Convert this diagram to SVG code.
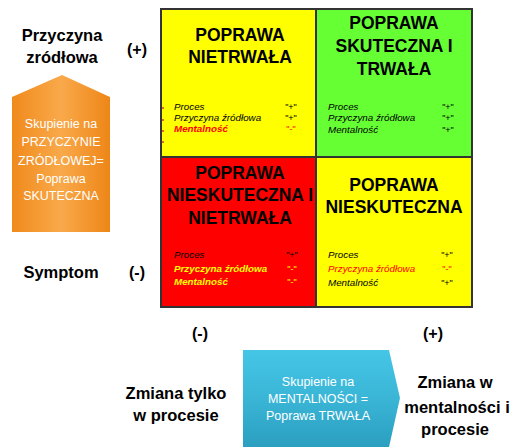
<svg xmlns="http://www.w3.org/2000/svg" width="512" height="448" viewBox="0 0 512 448">
<defs>
<linearGradient id="og" x1="0" y1="0" x2="1" y2="0">
<stop offset="0" stop-color="#f08a1c"/><stop offset="0.5" stop-color="#f9a94a"/><stop offset="1" stop-color="#ee8618"/>
</linearGradient>
<linearGradient id="bg" x1="0" y1="0" x2="0" y2="1">
<stop offset="0" stop-color="#45c6e6"/><stop offset="0.5" stop-color="#3ab5d6"/><stop offset="1" stop-color="#2b9fc0"/>
</linearGradient>
<style>
.t{font-family:"Liberation Sans",Arial,sans-serif;font-weight:bold;font-size:17.5px;fill:#000;text-anchor:middle}
.l{font-family:"Liberation Sans",Arial,sans-serif;font-weight:bold;font-size:16.5px;fill:#000;text-anchor:middle}
.q{font-family:"Liberation Sans",Arial,sans-serif;font-weight:bold;font-size:16px;fill:#000;text-anchor:middle}
.s{font-family:"Liberation Sans",Arial,sans-serif;font-style:italic;font-size:9.8px}
.v{font-family:"Liberation Sans",Arial,sans-serif;font-size:9px;text-anchor:middle}
.w{font-family:"Liberation Sans",Arial,sans-serif;font-size:12.5px;fill:#fff;text-anchor:middle}
.cell{stroke:#333;stroke-width:2}
</style>
</defs>
<g id="q-top-left">
<rect class="cell" x="161" y="9" width="155" height="148" fill="#ffff00"/>
<text class="t" x="240" y="41">POPRAWA</text>
<text class="t" x="240" y="63">NIETRWAŁA</text>
<rect x="162" y="107" width="2" height="2" fill="#e07020"/>
<rect x="162" y="119" width="2" height="2" fill="#e07020"/>
<rect x="162" y="130" width="2" height="2" fill="#e07020"/>
<rect x="162" y="141" width="2" height="2" fill="#e07020"/>
<text class="s" x="174" y="110" fill="#000">Proces</text>
<text class="s" x="174" y="121" fill="#000">Przyczyna źródłowa</text>
<text class="s" x="174" y="132" fill="#ff0000" font-weight="bold">Mentalność</text>
<text class="v" x="291" y="110">"+"</text>
<text class="v" x="291" y="121">"+"</text>
<text class="v" x="291" y="132" fill="#ff0000">"-"</text>
</g>
<g id="q-top-right">
<rect class="cell" x="316" y="9" width="156" height="148" fill="#66ff33"/>
<text class="t" x="394" y="29">POPRAWA</text>
<text class="t" x="394" y="52">SKUTECZNA I</text>
<text class="t" x="394" y="75">TRWAŁA</text>
<text class="s" x="328" y="110" fill="#000">Proces</text>
<text class="s" x="328" y="121" fill="#000">Przyczyna źródłowa</text>
<text class="s" x="328" y="133" fill="#000">Mentalność</text>
<text class="v" x="448" y="110">"+"</text>
<text class="v" x="448" y="121">"+"</text>
<text class="v" x="448" y="133">"+"</text>
</g>
<g id="q-bottom-left">
<rect class="cell" x="161" y="157" width="155" height="150" fill="#ff0000"/>
<text class="t" x="240" y="179">POPRAWA</text>
<text class="t" x="240" y="201">NIESKUTECZNA I</text>
<text class="t" x="240" y="224">NIETRWAŁA</text>
<text class="s" x="174" y="258" fill="#000">Proces</text>
<text class="s" x="174" y="272" fill="#ffff00" font-weight="bold">Przyczyna źródłowa</text>
<text class="s" x="174" y="285" fill="#ffff00" font-weight="bold">Mentalność</text>
<text class="v" x="292" y="258">"+"</text>
<text class="v" x="292" y="272" fill="#ffff00">"-"</text>
<text class="v" x="292" y="285" fill="#ffff00">"-"</text>
</g>
<g id="q-bottom-right">
<rect class="cell" x="316" y="157" width="156" height="150" fill="#ffff00"/>
<text class="t" x="394" y="191">POPRAWA</text>
<text class="t" x="394" y="213">NIESKUTECZNA</text>
<text class="s" x="328" y="258" fill="#000">Proces</text>
<text class="s" x="328" y="272" fill="#ff0000">Przyczyna źródłowa</text>
<text class="s" x="328" y="286" fill="#000">Mentalność</text>
<text class="v" x="447" y="258">"+"</text>
<text class="v" x="447" y="272" fill="#ff0000">"-"</text>
<text class="v" x="447" y="286">"+"</text>
</g>
<g id="label-przyczyna">
<text class="l" x="62" y="41">Przyczyna</text>
<text class="l" x="62" y="63">zródłowa</text>
<text class="q" x="137" y="55">(+)</text>
</g>
<g id="label-symptom">
<text class="l" x="61" y="278">Symptom</text>
<text class="q" x="137" y="278">(-)</text>
</g>
<g id="arrow-up">
<polygon points="12,97 62,75 110,97 110,232 12,232" fill="url(#og)"/>
<text class="w" x="61" y="128">Skupienie na</text>
<text class="w" x="61" y="146">PRZYCZYNIE</text>
<text class="w" x="61" y="165">ZRÓDŁOWEJ=</text>
<text class="w" x="61" y="183">Poprawa</text>
<text class="w" x="61" y="200">SKUTECZNA</text>
</g>
<g id="label-bottom-minus">
<text class="q" x="200" y="339">(-)</text>
<text class="l" x="176" y="399">Zmiana tylko</text>
<text class="l" x="176" y="421">w procesie</text>
</g>
<g id="label-bottom-plus">
<text class="q" x="433" y="339">(+)</text>
<text class="l" x="455" y="388">Zmiana w</text>
<text class="l" x="457" y="413">mentalności i</text>
<text class="l" x="455" y="435">procesie</text>
</g>
<g id="arrow-right">
<polygon points="243,350 389,350 400,398 389,447 243,447" fill="url(#bg)"/>
<text class="w" x="318" y="386">Skupienie na</text>
<text class="w" x="318" y="403">MENTALNOŚCI  =</text>
<text class="w" x="318" y="420">Poprawa TRWAŁA</text>
</g>
<g id="connectors"></g>
</svg>
